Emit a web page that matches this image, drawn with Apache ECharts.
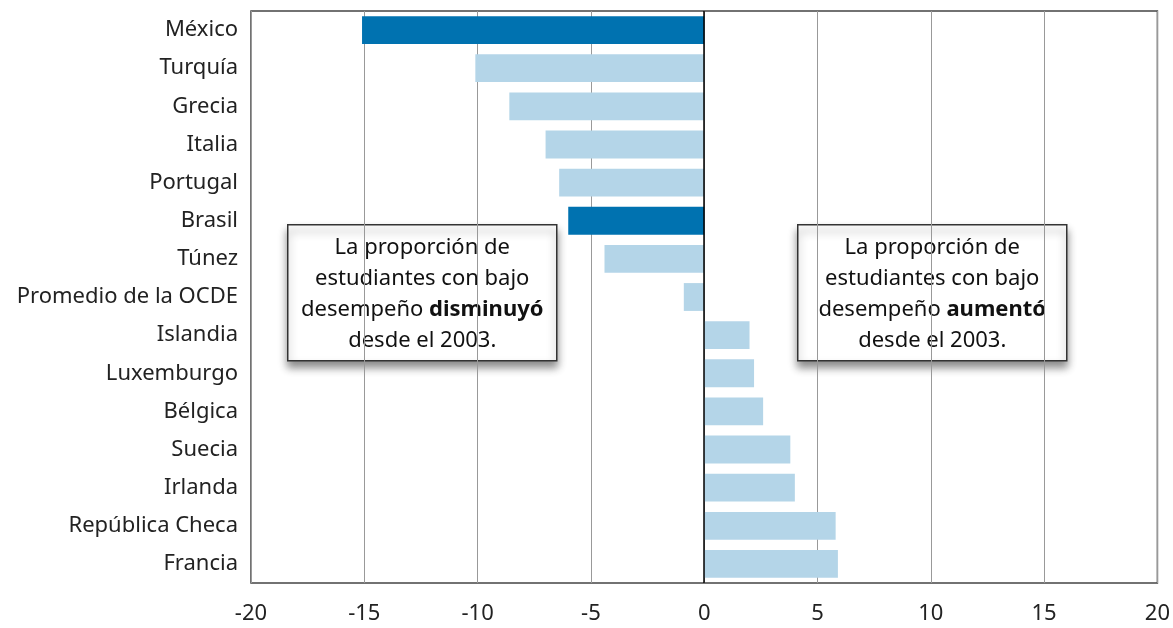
<!DOCTYPE html>
<html>
<head>
<meta charset="utf-8">
<script src="https://cdn.jsdelivr.net/npm/echarts@6/dist/echarts.min.js"></script>
<style>
  html, body { margin: 0; padding: 0; background: #fff; }
  #main { width: 1173px; height: 628px; }
</style>
</head>
<body>
<div id="main"></div>
<script>
// countries, top to bottom
var countries = ['México', 'Turquía', 'Grecia', 'Italia', 'Portugal', 'Brasil', 'Túnez',
  'Promedio de la OCDE', 'Islandia', 'Luxemburgo', 'Bélgica', 'Suecia', 'Irlanda',
  'República Checa', 'Francia'];
// change in share of low performers (percentage points)
var change = [-15.1, -10.1, -8.6, -7.0, -6.4, -6.0, -4.4, -0.9, 2.0, 2.2, 2.6, 3.8, 4.0, 5.8, 5.9];
var highlighted = ['México', 'Brasil'];
var xTicks = [-20, -15, -10, -5, 0, 5, 10, 15, 20];

var FONT = '"Noto Sans", sans-serif';
var DARK = '#0072b0';
var LIGHT = '#b4d5e8';

var barData = change.map(function (v, i) {
  return {
    value: v,
    itemStyle: { color: highlighted.indexOf(countries[i]) >= 0 ? DARK : LIGHT }
  };
});

function noteBox(x, word) {
  return {
    type: 'group',
    left: x,
    top: 224,
    children: [
      {
        type: 'rect',
        shape: { x: 0, y: 0, width: 269, height: 136 },
        style: {
          fill: '#fff',
          stroke: '#333',
          lineWidth: 1.5,
          shadowBlur: 8,
          shadowOffsetX: 0,
          shadowOffsetY: 6,
          shadowColor: 'rgba(0,0,0,0.45)'
        }
      },
      {
        type: 'text',
        x: 134.5,
        y: 69,
        style: {
          text: 'La proporción de\nestudiantes con bajo\ndesempeño {b|' + word + '}\ndesde el 2003.',
          align: 'center',
          verticalAlign: 'middle',
          font: '22px ' + FONT,
          fill: '#111',
          lineHeight: 31,
          rich: {
            b: { fontWeight: 'bold', fontSize: 22, fontFamily: FONT, fill: '#111', lineHeight: 31 }
          }
        }
      }
    ]
  };
}

var chart = echarts.init(document.getElementById('main'));
chart.setOption({
  backgroundColor: '#fff',
  animation: false,
  textStyle: { fontFamily: FONT },
  grid: {
    left: 251,
    right: 15,
    top: 11,
    bottom: 45,
    show: true,
    borderColor: '#444',
    borderWidth: 1.5
  },
  xAxis: {
    type: 'value',
    min: -20,
    max: 20,
    interval: 5,
    axisLine: { show: false },
    axisTick: { show: false },
    splitLine: { show: true, lineStyle: { color: '#999', width: 1 } },
    axisLabel: {
      color: '#222',
      fontSize: 22,
      margin: 20,
      fontFamily: FONT,
      formatter: function (v) { return xTicks.indexOf(v) >= 0 ? String(v) : ''; }
    }
  },
  yAxis: {
    type: 'category',
    data: countries,
    inverse: true,
    axisLine: { show: false },
    axisTick: { show: false },
    axisLabel: { color: '#222', fontSize: 22, margin: 13, fontFamily: FONT, padding: [5, 0, 0, 0] }
  },
  series: [{
    type: 'bar',
    data: barData,
    barWidth: '73%',
    markLine: {
      silent: true,
      symbol: 'none',
      label: { show: false },
      lineStyle: { color: '#000', width: 1.5, type: 'solid' },
      data: [{ xAxis: 0 }]
    }
  }],
  graphic: [noteBox(287, 'disminuyó'), noteBox(797, 'aumentó')]
});
</script>
</body>
</html>
